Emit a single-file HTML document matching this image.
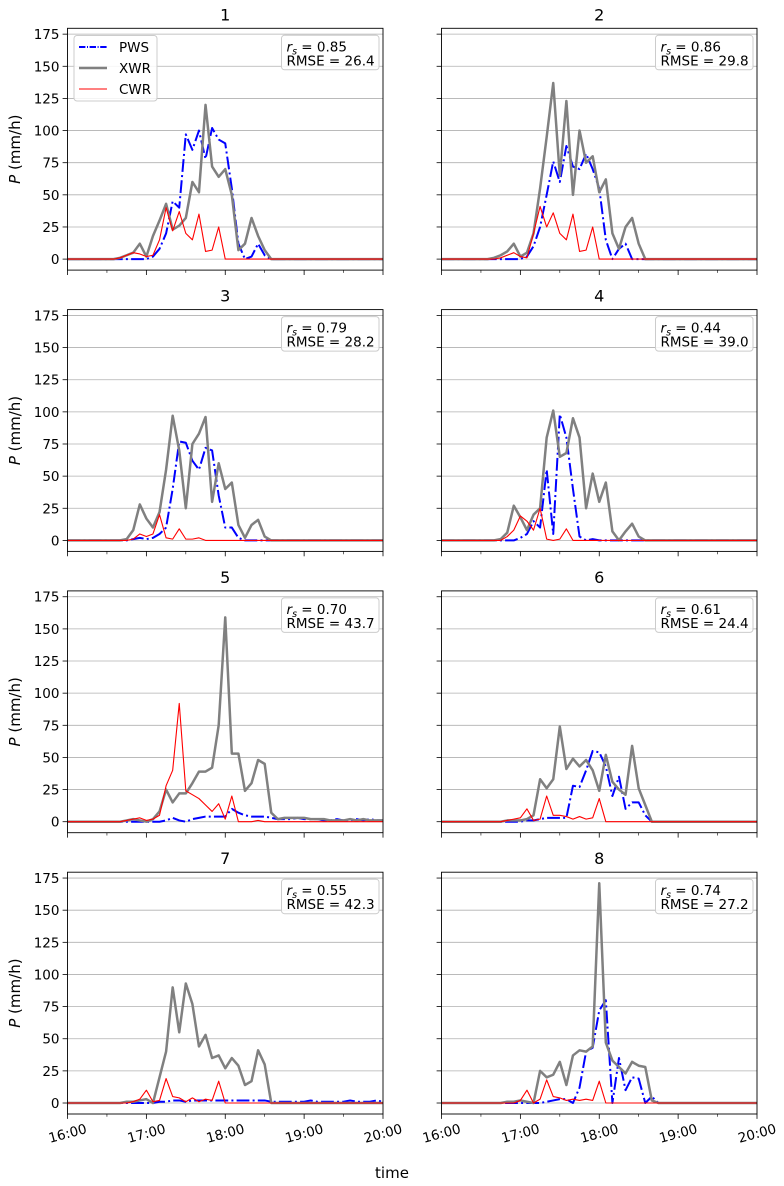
<!DOCTYPE html>
<html><head><meta charset="utf-8"><style>
html,body{margin:0;padding:0;background:#fff;}
svg{display:block;font-family:"DejaVu Sans","Liberation Sans",sans-serif;}
</style></head><body>
<svg id="fig" width="784" height="1186" viewBox="0 0 784 1186" xmlns="http://www.w3.org/2000/svg"></svg>
<script>
// ---- data (5-min steps from 16:00 to 20:00, 49 points) ----
const panelTitles = ['1','2','3','4','5','6','7','8'];
const rsValues = ['0.85','0.86','0.79','0.44','0.70','0.61','0.55','0.74'];
const rmseValues = ['26.4','29.8','28.2','39.0','43.7','24.4','42.3','27.2'];
const yTicks = [0,25,50,75,100,125,150,175];
const xTickLabels = ['16:00','17:00','18:00','19:00','20:00'];
const Z8=[0,0,0,0,0,0,0,0];
const pws1=[0,0,0,0,0,0,0,0,0,0,0,0,0,2,8,20,45,40,97,85,100,78,102,93,90,55,12,0,2,12,3,0,0,0,0,0,0,0,0,0,0,0,0,0,0,0,0,0,0];
const xwr1=Z8.concat([1,3,5,12,2,18,30,43,23,26,32,60,52,120,72,64,70,50,7,12,32,18,7],[0,0,0,0,0,0,0,0,0,0,0,0,0,0,0,0,0,0]);
const cwr1=Z8.concat([1,3,5,4,2,3,15,40,22,37,20,15,35,6,7,25],[0,0,0,0,0,0,0,0,0,0,0,0,0,0,0,0,0,0,0,0,0,0,0,0,0]);
const pws2=[0,0,0,0,0,0,0,0,0,0,0,0,0,2,10,25,50,76,60,88,72,70,82,70,55,15,0,8,12,0,0,0,0,0,0,0,0,0,0,0,0,0,0,0,0,0,0,0,0];
const xwr2=Z8.concat([1,3,6,12,2,5,20,55,95,137,65,123,50,100,75,80,52,62,20,8,25,32,12],[0,0,0,0,0,0,0,0,0,0,0,0,0,0,0,0,0,0]);
const cwr2=Z8.concat([0,1,3,5,2,1,20,41,25,36,20,15,35,6,7,25],[0,0,0,0,0,0,0,0,0,0,0,0,0,0,0,0,0,0,0,0,0,0,0,0,0]);
const pws3=Z8.concat([0,0,1,2,1,2,5,10,40,77,76,62,55,72,70,35,10,10,2,0,0,0,0],[0,0,0,0,0,0,0,0,0,0,0,0,0,0,0,0,0,0]);
const xwr3=Z8.concat([0,1,8,28,17,10,22,55,97,70,25,75,83,96,30,60,40,45,12,2,12,16,3],[0,0,0,0,0,0,0,0,0,0,0,0,0,0,0,0,0,0]);
const cwr3=Z8.concat([0,0,1,5,3,5,20,2,1,9,1,1,2,0,0,0],[0,0,0,0,0,0,0,0,0,0,0,0,0,0,0,0,0,0,0,0,0,0,0,0,0]);
const pws4=Z8.concat([0,0,0,0,2,5,15,10,55,5,98,80,40,3,0,1,0,0,0,0,0,0,0],[0,0,0,0,0,0,0,0,0,0,0,0,0,0,0,0,0,0]);
const xwr4=Z8.concat([0,1,6,27,18,8,20,25,80,101,65,68,95,80,25,52,30,45,7,0,7,13,3],[0,0,0,0,0,0,0,0,0,0,0,0,0,0,0,0,0,0]);
const cwr4=Z8.concat([0,0,3,8,19,15,8,25,1,0,1,9,0,0,0,0],[0,0,0,0,0,0,0,0,0,0,0,0,0,0,0,0,0,0,0,0,0,0,0,0,0]);
const pws5=Z8.concat([0,0,0,0,0,0,0,1,3,1,0,2,3,4,4,4,4,10,7,5,4,4,4,3,2,2,2,3,2,2,2,1,1,2,1,1,2,1,2,1,1]);
const xwr5=Z8.concat([0,1,2,1,0,2,8,25,15,22,22,30,39,39,42,75,159,53,53,24,30,48,45,7,2,3,3,3,3,2,2,2,1,1,1,2,1,2,1,1,1]);
const cwr5=Z8.concat([0,1,2,3,1,2,5,28,40,92,24,21,18,13,8,14,2,20,0,0,0,1,0],[0,0,0,0,0,0,0,0,0,0,0,0,0,0,0,0,0,0]);
const pws6=Z8.concat([0,0,0,0,0,1,1,2,3,3,3,3,28,27,40,55,54,43,20,35,10,15,15,5,0],[0,0,0,0,0,0,0,0,0,0,0,0,0,0,0,0]);
const xwr6=Z8.concat([0,0,1,1,1,2,5,33,26,33,74,41,49,43,48,40,24,52,31,25,21,59,26,13,0],[0,0,0,0,0,0,0,0,0,0,0,0,0,0,0,0]);
const cwr6=Z8.concat([0,0,1,2,3,10,1,2,20,5,5,4,2,4,2,3,18,0,0,0,0,0,0,0,0],[0,0,0,0,0,0,0,0,0,0,0,0,0,0,0,0]);
const pws7=Z8.concat([0,0,0,0,0,0,1,1,2,2,1,2,2,2,2,2,2,2,2,2,2,2,2,1,1,1,1,1,1,2,1,1,1,1,1,2,1,1,1,2,1]);
const xwr7=Z8.concat([0,1,1,2,3,0,20,40,90,55,93,77,44,53,35,37,27,35,29,14,17,41,30,0,0],[0,0,0,0,0,0,0,0,0,0,0,0,0,0,0,0]);
const cwr7=Z8.concat([0,0,1,3,10,1,2,19,5,4,1,4,1,3,2,17,0,0,0,0,0,0,0,0,0],[0,0,0,0,0,0,0,0,0,0,0,0,0,0,0,0]);
const pws8=Z8.concat([0,0,0,0,0,0,0,0,1,2,3,3,0,12,40,43,72,80,0,35,10,20,19,0,5,0],[0,0,0,0,0,0,0,0,0,0,0,0,0,0,0]);
const xwr8=Z8.concat([0,0,1,1,2,1,0,25,20,22,32,14,37,41,40,44,171,47,33,28,23,32,29,28,2],[0,0,0,0,0,0,0,0,0,0,0,0,0,0,0,0]);
const cwr8=Z8.concat([0,0,0,0,2,10,0,3,18,5,4,2,3,2,3,2,17,0,0,0,0,0,0,0,0],[0,0,0,0,0,0,0,0,0,0,0,0,0,0,0,0]);
const pwsSeries=[pws1,pws2,pws3,pws4,pws5,pws6,pws7,pws8];
const xwrSeries=[xwr1,xwr2,xwr3,xwr4,xwr5,xwr6,xwr7,xwr8];
const cwrSeries=[cwr1,cwr2,cwr3,cwr4,cwr5,cwr6,cwr7,cwr8];

const NS='http://www.w3.org/2000/svg';
const svg=document.getElementById('fig');
function mk(tag,attrs,parent){const e=document.createElementNS(NS,tag);for(const k in attrs)e.setAttribute(k,attrs[k]);(parent||svg).appendChild(e);return e;}

const colX=[67.5,441.5], axW=315.5, axH=241.8, rowTop0=28.3, rowStep=281.3;
const yMin=-8.55, yMax=179.55, tMax=240, step=5;

for(let p=0;p<8;p++){
  const col=p%2,row=Math.floor(p/2);
  const L=colX[col],T=rowTop0+row*rowStep;
  const xs=m=>L+m/tMax*axW;
  const ys=v=>T+(yMax-v)/(yMax-yMin)*axH;
  const g=mk('g',{});
  
  
  // grid + y ticks
  yTicks.forEach(v=>{
    const gl=mk('line',{x1:L,x2:L+axW,y1:ys(v),y2:ys(v),stroke:'#b0b0b0','stroke-width':0.8},g);
    
    
    mk('line',{x1:L-4.9,x2:L,y1:ys(v),y2:ys(v),stroke:'#000','stroke-width':0.8},g);
    if(col===0){
      const t=mk('text',{x:L-8,y:ys(v)+5,'text-anchor':'end','font-size':13.5,fill:'#000'},g);
      t.textContent=v;
      
      
    }
  });
  // x ticks
  for(let m=0;m<=tMax;m+=30){
    const major=m%60===0;
    mk('line',{x1:xs(m),x2:xs(m),y1:T+axH,y2:T+axH+(major?4.9:2.8),stroke:'#000','stroke-width':major?0.8:0.6},g);
    if(major&&row===3){
      const cx=xs(m),cy=T+axH+24;
      const t=mk('text',{x:cx,y:cy,'text-anchor':'middle','font-size':13.5,fill:'#000',transform:`rotate(-15 ${cx} ${cy-5})`},g);
      t.textContent=xTickLabels[m/60];
      
      
    }
  }
  // series
  const clip='clip'+p;
  const cp=mk('clipPath',{id:clip},g);mk('rect',{x:L,y:T,width:axW,height:axH},cp);
  const draw=(arr,stroke,w,dash,name)=>{
    const pts=arr.map((v,i)=>xs(i*step).toFixed(2)+','+ys(v).toFixed(2)).join(' ');
    const a={points:pts,fill:'none',stroke:stroke,'stroke-width':w,'stroke-linejoin':'round','clip-path':`url(#${clip})`};
    if(dash)a['stroke-dasharray']=dash;
    const pl=mk('polyline',a,g);
    
    
  };
  draw(pwsSeries[p],'#0000ff',2,'12.8 3.2 2 3.2','pws-line');
  draw(xwrSeries[p],'#808080',2.5,null,'xwr-line');
  draw(cwrSeries[p],'#ff0000',1.1,null,'cwr-line');
  // frame
  mk('rect',{x:L,y:T,width:axW,height:axH,fill:'none',stroke:'#000','stroke-width':0.9},g);
  // title
  const tt=mk('text',{x:L+axW/2,y:T-8,'text-anchor':'middle','font-size':16,fill:'#000'},g);
  tt.textContent=panelTitles[p];
  
  
  // y label
  if(col===0){
    const cy=T+axH/2;
    const yl=mk('text',{x:20,y:cy,'text-anchor':'middle','font-size':15,fill:'#000',transform:`rotate(-90 20 ${cy})`},g);
    yl.innerHTML='<tspan font-style="italic">P</tspan>  (mm/h)';
    
    
  }
  // stats box
  const bx=L+axW-101.5,by=T+7;
  const sb=mk('g',{},g);
  
  
  mk('rect',{x:bx,y:by,width:97.5,height:34.5,rx:3,fill:'#fff','fill-opacity':0.85,stroke:'#cccccc','stroke-width':1},sb);
  const t1=mk('text',{x:bx+5,y:by+16,'font-size':13.5,fill:'#000'},sb);
  t1.innerHTML='<tspan font-style="italic">r</tspan><tspan font-style="italic" font-size="9.5" dy="3">s</tspan><tspan dy="-3"> = '+rsValues[p]+'</tspan>';
  const t2=mk('text',{x:bx+5,y:by+30,'font-size':13.5,fill:'#000'},sb);
  t2.textContent='RMSE = '+rmseValues[p];
}
// legend
const lg=mk('g',{});


mk('rect',{x:74,y:35.5,width:83,height:65.5,rx:3,fill:'#fff','fill-opacity':0.85,stroke:'#cccccc','stroke-width':1},lg);
const legNames=['PWS','XWR','CWR'],legCol=['#0000ff','#808080','#ff0000'],legW=[2,2.5,1.1],legDash=['6.4 1.6 1 1.6',null,null];
legNames.forEach((n,k)=>{
  const y=47+k*21;
  const a={x1:79,x2:107,y1:y,y2:y,stroke:legCol[k],'stroke-width':legW[k]};
  if(legDash[k])a['stroke-dasharray']=legDash[k];
  mk('line',a,lg);
  const t=mk('text',{x:119,y:y+5,'font-size':13.5,fill:'#000'},lg);
  t.textContent=n;
  
  
});
const xl=mk('text',{x:392,y:1178,'text-anchor':'middle','font-size':15,fill:'#000'});
xl.textContent='time';


</script>
</body></html>
